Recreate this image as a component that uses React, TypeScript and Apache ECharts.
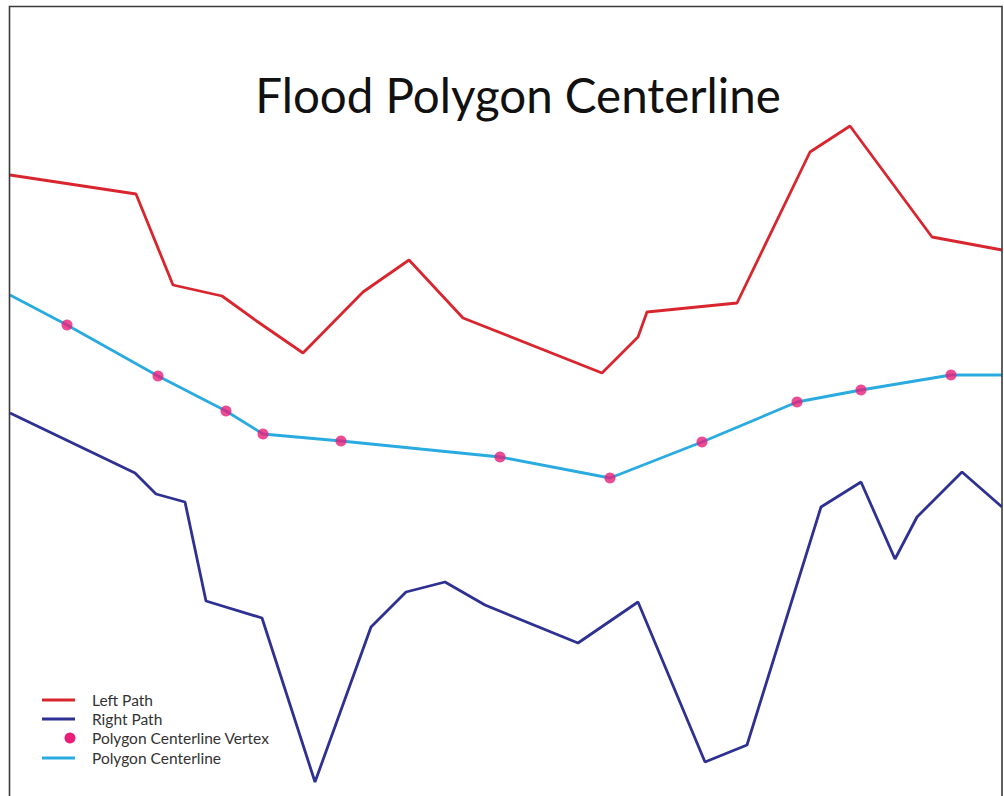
import React, { useEffect, useRef } from "react";
import * as echarts from "echarts";

const leftPathX = [10, 136, 173, 222, 258, 303, 363, 409, 463, 602, 638, 647, 737, 810, 850, 932, 1002];
const leftPathY = [175, 194, 285, 296, 322, 353, 292, 260, 318, 373, 337, 312, 303, 152, 126, 237, 250];

const rightPathX = [10, 135, 156, 185, 206, 262, 315, 371, 406, 445, 485, 578, 638, 705, 747, 821, 861, 895, 917, 962, 1002];
const rightPathY = [413, 473, 494, 502, 601, 618, 782, 627, 592, 582, 605, 643, 602, 762, 745, 507, 482, 559, 517, 472, 507];

const centerX = [10, 67, 158, 226, 263, 341, 500, 610, 702, 797, 861, 951, 1002];
const centerY = [295, 325, 376, 411, 434, 441, 457, 478, 442, 402, 390, 375, 375];

const vertexX = [67, 158, 226, 263, 341, 500, 610, 702, 797, 861, 951];
const vertexY = [325, 376, 411, 434, 441, 457, 478, 442, 402, 390, 375];

const titleText = "Flood Polygon Centerline";
const legendNames = ["Left Path", "Right Path", "Polygon Centerline Vertex", "Polygon Centerline"];

const RED = "#d9262e";
const NAVY = "#2e3192";
const CYAN = "#2aabe0";
const PINK = "#e91e78";

const zip = (xs: number[], ys: number[]) => xs.map((x, i) => [x, ys[i]]);

export default function App() {
  const ref = useRef<HTMLDivElement>(null);
  useEffect(() => {
    if (!ref.current) return;
    const chart = echarts.init(ref.current, null, { renderer: "svg" });
    const font = "Lato, 'Open Sans', sans-serif";
    const legendY = [700, 719, 738, 758];
    const legendGraphics: any[] = [];
    legendNames.forEach((name, i) => {
      const y = legendY[i];
      if (i === 2) {
        legendGraphics.push({
          type: "circle",
          shape: { cx: 70, cy: y, r: 5.5 },
          style: { fill: PINK },
        });
      } else {
        legendGraphics.push({
          type: "line",
          shape: { x1: 42, y1: y, x2: 75, y2: y },
          style: { stroke: i === 0 ? RED : i === 1 ? NAVY : CYAN, lineWidth: 3 },
        });
      }
      legendGraphics.push({
        type: "text",
        x: 92,
        y: y,
        style: {
          text: name,
          fill: "#333",
          font: `15.5px ${font}`,
          textVerticalAlign: "middle",
          verticalAlign: "middle",
        },
      });
    });
    chart.setOption({
      animation: false,
      backgroundColor: "#ffffff",
      grid: { left: 0, right: 0, top: 0, bottom: 0 },
      xAxis: { type: "value", min: 0, max: 1004, show: false },
      yAxis: { type: "value", min: 0, max: 796, inverse: true, show: false },
      graphic: [
        {
          type: "rect",
          shape: { x: 9.5, y: 6.5, width: 992.5, height: 800 },
          style: { fill: "none", stroke: "#3a3a3a", lineWidth: 1.6 },
          z: 100,
        },
        {
          type: "text",
          x: 518,
          y: 94,
          style: {
            text: titleText,
            fill: "#111",
            font: `47.5px ${font}`,
            align: "center",
            verticalAlign: "middle",
            textAlign: "center",
            textVerticalAlign: "middle",
          },
        },
        ...legendGraphics,
      ],
      series: [
        {
          name: legendNames[0],
          type: "line",
          data: zip(leftPathX, leftPathY),
          symbol: "none",
          lineStyle: { color: RED, width: 2.8 },
          itemStyle: { color: RED },
        },
        {
          name: legendNames[1],
          type: "line",
          data: zip(rightPathX, rightPathY),
          symbol: "none",
          lineStyle: { color: NAVY, width: 2.8 },
          itemStyle: { color: NAVY },
        },
        {
          name: legendNames[3],
          type: "line",
          data: zip(centerX, centerY),
          symbol: "none",
          lineStyle: { color: CYAN, width: 2.8 },
          itemStyle: { color: CYAN },
        },
        {
          name: legendNames[2],
          type: "scatter",
          data: zip(vertexX, vertexY),
          symbol: "circle",
          symbolSize: 11,
          itemStyle: { color: PINK },
          z: 5,
        },
      ],
    });
    return () => chart.dispose();
  }, []);
  return (
    <div
      ref={ref}
      style={{ position: "absolute", left: 0, top: 0, width: 1004, height: 796 }}
    />
  );
}
